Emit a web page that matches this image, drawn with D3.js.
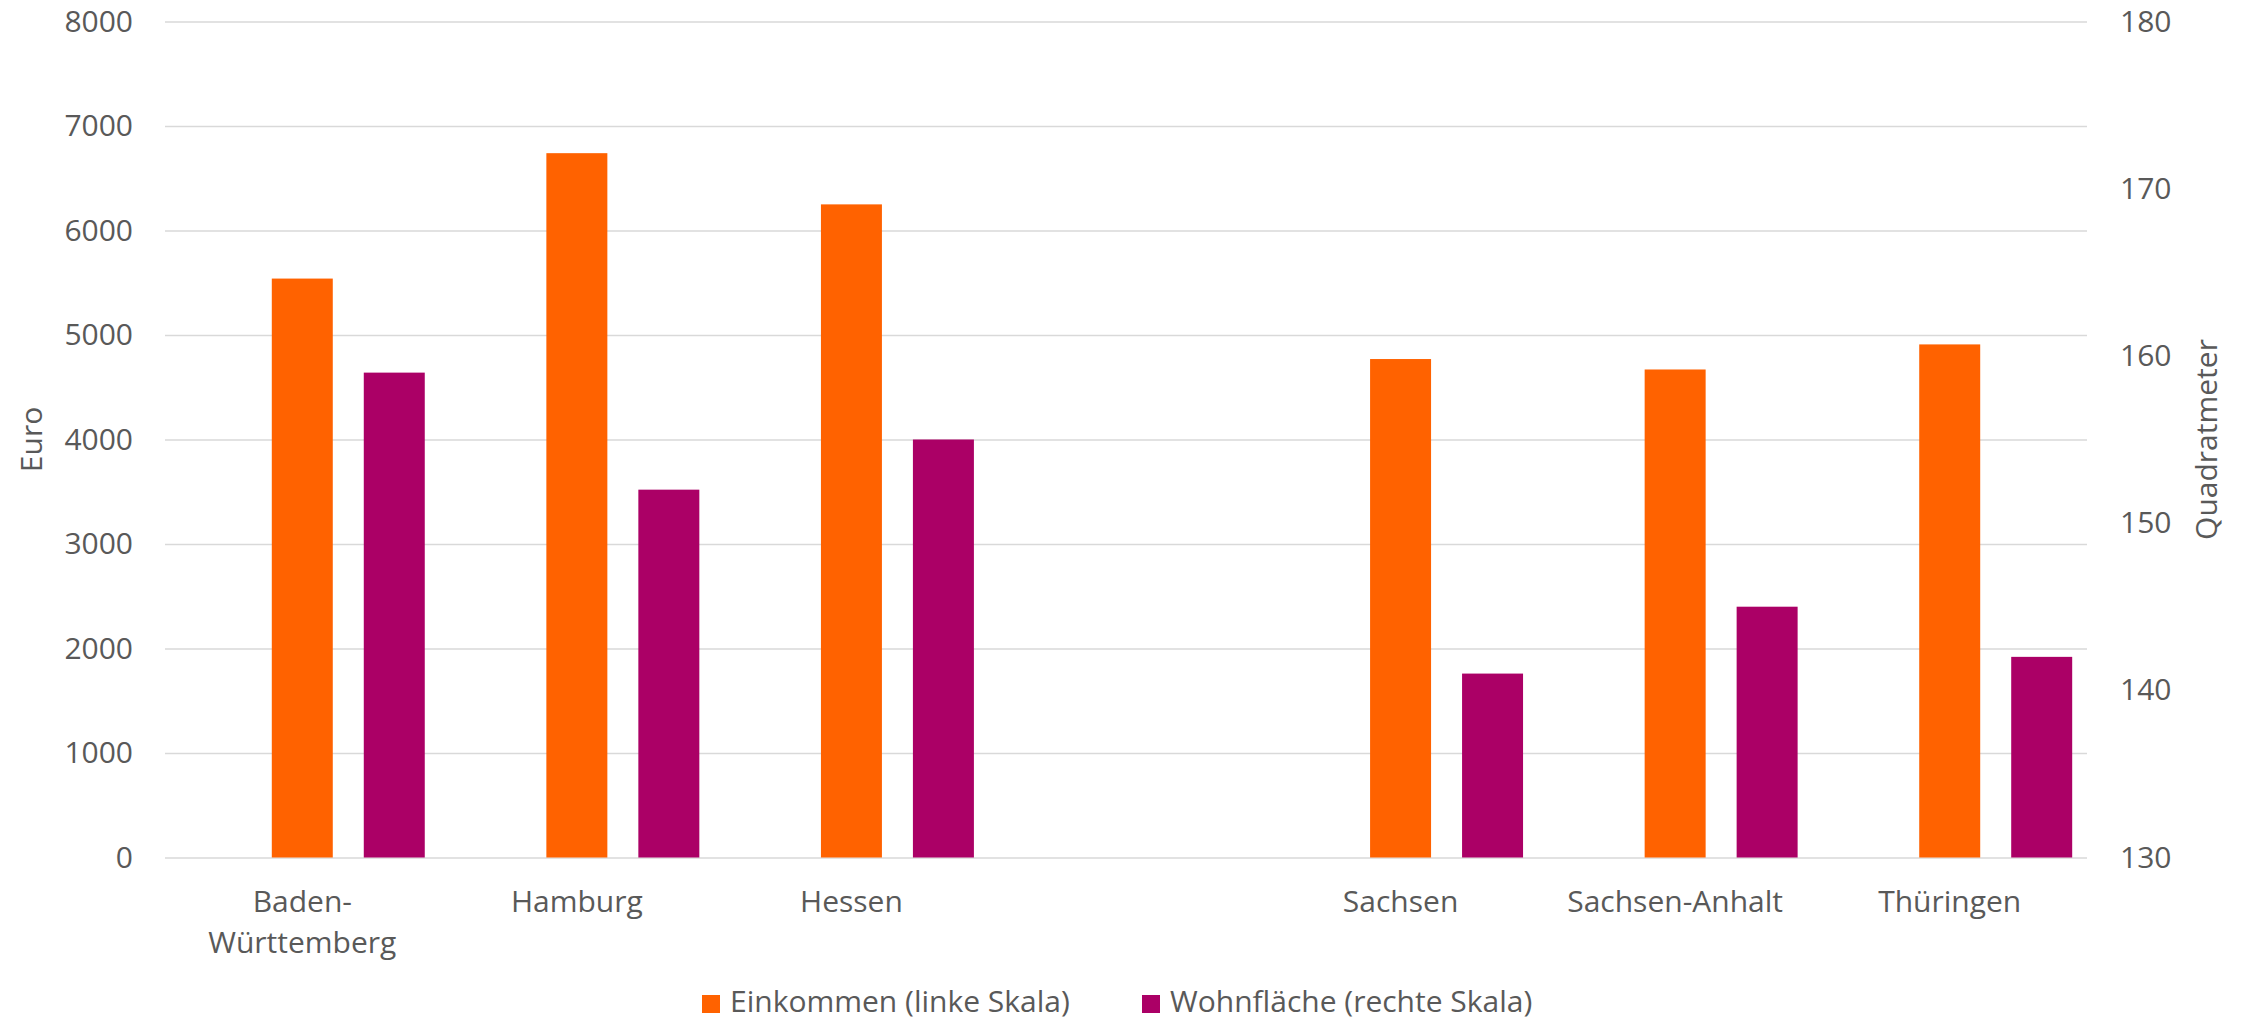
<!DOCTYPE html>
<html>
<head>
<meta charset="utf-8">
<script src="https://cdn.jsdelivr.net/npm/d3@7"></script>
<style>
  body { margin: 0; background: #fff; }
  svg { display: block; font-family: "Open Sans", sans-serif; }
  .axis { font-family: "Open Sans", sans-serif; }
  .axis text { fill: #595959; font-size: 30px; }
  .axis .domain { display: none; }
  .grid line { stroke: #d9d9d9; stroke-width: 1.5px; }
</style>
</head>
<body>
<svg id="chart" width="2249" height="1022"></svg>
<script>
// data
const states = ["Baden-Württemberg", "Hamburg", "Hessen", "Sachsen", "Sachsen-Anhalt", "Thüringen"];
const stateLines = [["Baden-", "Württemberg"], ["Hamburg"], ["Hessen"], ["Sachsen"], ["Sachsen-Anhalt"], ["Thüringen"]];
const einkommen = [5540, 6740, 6250, 4770, 4670, 4910];   // Euro, left scale
const wohnflaeche = [159, 152, 155, 141, 145, 142];       // Quadratmeter, right scale
const leftTicks = [0, 1000, 2000, 3000, 4000, 5000, 6000, 7000, 8000];
const rightTicks = [130, 140, 150, 160, 170, 180];
const seriesNames = ["Einkommen (linke Skala)", "Wohnfläche (rechte Skala)"];
const colors = ["#ff6200", "#ab0066"];

let dims = { top: 21.5, bottom: 164.5, left: 165, right: 162 };
let svg = d3.select("#chart");
let width = 2249 - dims.left - dims.right;
let height = 1022 - dims.top - dims.bottom;

// empty slot between west and east german states
let domain = states.slice(0, 3).concat(["gap"], states.slice(3));

let x0 = d3.scaleBand().domain(domain).range([0, width]).padding(0);
// three sub-slots, the first one stays empty as in the original
let x1 = d3.scaleBand().domain(["none", "ein", "wohn"]).range([0, x0.bandwidth()])
  .paddingInner(0.337).paddingOuter(0.161);
let yL = d3.scaleLinear().domain([0, 8000]).range([height, 0]);
let yR = d3.scaleLinear().domain([130, 180]).range([height, 0]);

let g = svg.append("g").attr("transform", "translate(" + dims.left + "," + dims.top + ")");

// gridlines + left ticks
g.append("g").attr("class", "axis grid")
  .call(d3.axisLeft(yL).tickValues(leftTicks).tickSize(-width).tickPadding(32).tickFormat(d3.format("d")));

// right ticks
g.append("g").attr("class", "axis")
  .attr("transform", "translate(" + width + ",0)")
  .call(d3.axisRight(yR).tickValues(rightTicks).tickSize(0).tickPadding(33));

// bars
let rows = states.map((s, i) => ({ state: s, ein: einkommen[i], wohn: wohnflaeche[i] }));

g.selectAll(".ein").data(rows).enter().append("rect")
  .attr("x", (d) => x0(d.state) + x1("ein"))
  .attr("y", (d) => yL(d.ein))
  .attr("width", x1.bandwidth())
  .attr("height", (d) => height - yL(d.ein))
  .attr("fill", colors[0]);

g.selectAll(".wohn").data(rows).enter().append("rect")
  .attr("x", (d) => x0(d.state) + x1("wohn"))
  .attr("y", (d) => yR(d.wohn))
  .attr("width", x1.bandwidth())
  .attr("height", (d) => height - yR(d.wohn))
  .attr("fill", colors[1]);

// category labels (multi line)
let xa = g.append("g").attr("class", "axis")
  .attr("transform", "translate(0," + height + ")");
states.forEach((s, i) => {
  let t = xa.append("text")
    .attr("x", x0(s) + x0.bandwidth() / 2)
    .attr("y", 54)
    .attr("text-anchor", "middle");
  stateLines[i].forEach((line, j) => {
    t.append("tspan").attr("x", x0(s) + x0.bandwidth() / 2).attr("dy", j == 0 ? 0 : 41).text(line);
  });
});

// axis titles
svg.append("text")
  .attr("transform", "translate(42," + (dims.top + height / 2) + ") rotate(-90)")
  .attr("text-anchor", "middle").attr("fill", "#595959").attr("font-size", 30)
  .text("Euro");

svg.append("text")
  .attr("transform", "translate(2217," + (dims.top + height / 2) + ") rotate(-90)")
  .attr("text-anchor", "middle").attr("fill", "#595959").attr("font-size", 30)
  .text("Quadratmeter");

// legend
let legendX = [702, 1142];
let legend = svg.append("g");
seriesNames.forEach((name, i) => {
  legend.append("rect").attr("x", legendX[i]).attr("y", 995).attr("width", 18).attr("height", 18).attr("fill", colors[i]);
  legend.append("text").attr("x", legendX[i] + 28).attr("y", 1012)
    .attr("fill", "#595959").attr("font-size", 30).text(name);
});
</script>
</body>
</html>
